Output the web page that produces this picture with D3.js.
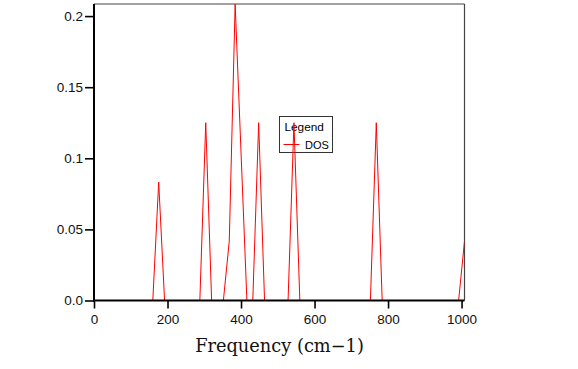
<!DOCTYPE html>
<html>
<head>
<meta charset="utf-8">
<script src="https://cdn.jsdelivr.net/npm/d3@7"></script>
<style>
  html, body { margin: 0; padding: 0; background: #fff; }
  svg { display: block; }
</style>
</head>
<body>
<svg id="chart" width="578" height="369"></svg>
<script>
// Data
const freq = [0, 160, 176, 192, 288, 304, 320, 352, 368, 384, 416, 432, 448, 464, 528, 544, 560, 752, 768, 784, 992, 1008];
const dos  = [0, 0, 0.0833, 0, 0, 0.125, 0, 0, 0.0417, 0.2083, 0, 0, 0.125, 0, 0, 0.125, 0, 0, 0.125, 0, 0, 0.0417];
const xTicks = [0, 200, 400, 600, 800, 1000];
const yTicks = [0, 0.05, 0.1, 0.15, 0.2];
const yTickLabels = ["0.0", "0.05", "0.1", "0.15", "0.2"];
const xLabel = "Frequency (cm\u22121)";
const legendTitle = "Legend";
const seriesName = "DOS";

const svg = d3.select("#chart");
const L = 94, R = 464.5, T = 4, B = 300.5;

const x = d3.scaleLinear().domain([0, 1008]).range([L, R]);
const y = d3.scaleLinear().domain([0, 0.2085]).range([B, T]);

svg.append("defs").append("clipPath").attr("id", "clip")
  .append("rect").attr("x", L).attr("y", T).attr("width", R - L).attr("height", B - T);

// frame (top and right)
svg.append("line").attr("x1", L).attr("x2", R).attr("y1", T).attr("y2", T)
  .attr("stroke", "#444").attr("stroke-width", 1.2);
svg.append("line").attr("x1", R).attr("x2", R).attr("y1", T).attr("y2", B)
  .attr("stroke", "#444").attr("stroke-width", 1.2);

// legend box (drawn under data line)
const lg = svg.append("g");
lg.append("rect").attr("x", 279.5).attr("y", 116.5).attr("width", 53).attr("height", 36)
  .attr("fill", "#fff").attr("stroke", "#333").attr("stroke-width", 1);
lg.append("text").attr("x", 284.5).attr("y", 131).text(legendTitle)
  .attr("font-family", "Liberation Sans, Arial, sans-serif").attr("font-size", 11.8).attr("fill", "#000");
lg.append("line").attr("x1", 283.5).attr("x2", 299.5).attr("y1", 144.5).attr("y2", 144.5)
  .attr("stroke", "#ff0000").attr("stroke-width", 1);
lg.append("text").attr("x", 305).attr("y", 149).text(seriesName)
  .attr("font-family", "Liberation Sans, Arial, sans-serif").attr("font-size", 11).attr("fill", "#000");

// data line
const pts = freq.map((f, i) => [f, dos[i]]);
svg.append("path")
  .datum(pts)
  .attr("clip-path", "url(#clip)")
  .attr("fill", "none")
  .attr("stroke", "#ff0000")
  .attr("stroke-width", 1)
  .attr("d", d3.line().x(d => x(d[0])).y(d => y(d[1])));

// axes
const xAxis = svg.append("g").attr("transform", `translate(0,${B})`)
  .call(d3.axisBottom(x).tickValues(xTicks).tickSize(8).tickSizeOuter(0).tickPadding(6).tickFormat(d3.format("d")));
const yAxis = svg.append("g").attr("transform", `translate(${L},0)`)
  .call(d3.axisLeft(y).tickValues(yTicks).tickSize(9).tickSizeOuter(0).tickPadding(2)
    .tickFormat((d, i) => yTickLabels[i]));

[xAxis, yAxis].forEach(g => {
  g.select(".domain").attr("stroke", "#000").attr("stroke-width", 2);
  g.selectAll(".tick line").attr("stroke", "#000").attr("stroke-width", 1.6);
  g.selectAll(".tick text").attr("font-family", "Liberation Sans, Arial, sans-serif")
    .attr("font-size", 13.5).attr("fill", "#111");
});
// x domain line extends across whole plot width
xAxis.select(".domain").attr("d", `M${L - 1},0H${R}`);
yAxis.select(".domain").attr("d", `M0,${T}V${B + 1}`);

// x-axis label
svg.append("text").attr("x", 279.5).attr("y", 352).attr("text-anchor", "middle")
  .attr("font-family", "DejaVu Serif, serif").attr("font-size", 17.8).attr("fill", "#111")
  .text(xLabel);
</script>
</body>
</html>
